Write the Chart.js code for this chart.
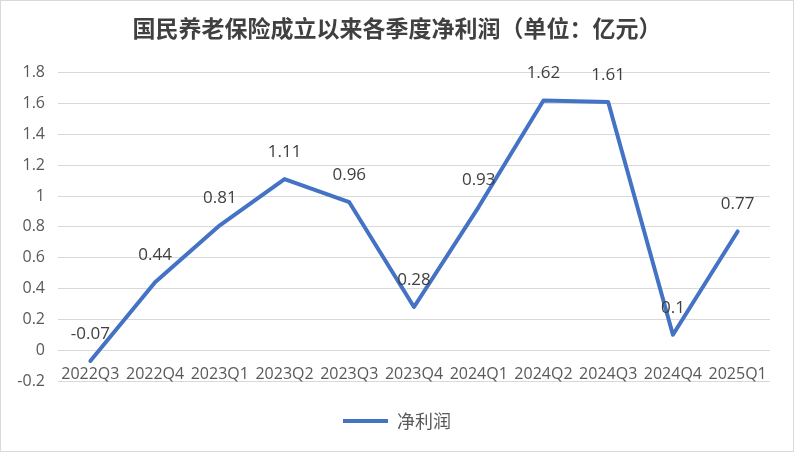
<!DOCTYPE html>
<html>
<head>
<meta charset="utf-8">
<script src="https://cdn.jsdelivr.net/npm/chart.js@4.4.0/dist/chart.umd.min.js"></script>
<style>
  html, body { margin: 0; padding: 0; background: #fff; }
  #wrap { position: relative; width: 794px; height: 452px; }
  #frame { position: absolute; left: 0; top: 0; width: 794px; height: 452px; box-sizing: border-box; border: 1px solid #d9d9d9; pointer-events: none; }
</style>
</head>
<body>
<div id="wrap">
  <canvas id="c" width="794" height="452"></canvas>
  <div id="frame"></div>
</div>
<script>
const titleText = '国民养老保险成立以来各季度净利润（单位：亿元）';
const seriesName = '净利润';
const categories = ['2022Q3','2022Q4','2023Q1','2023Q2','2023Q3','2023Q4','2024Q1','2024Q2','2024Q3','2024Q4','2025Q1'];
const netProfit = [-0.07, 0.44, 0.81, 1.11, 0.96, 0.28, 0.93, 1.62, 1.61, 0.1, 0.77];
const yMin = -0.2, yMax = 1.8, yStep = 0.2;

const BLUE = '#4472C4';
const LATIN = '"Open Sans", "Noto Sans CJK SC", sans-serif';
const CJK = '"Noto Sans CJK SC", sans-serif';

const valueLabels = {
  id: 'valueLabels',
  afterDatasetsDraw(chart) {
    const ctx = chart.ctx;
    const meta = chart.getDatasetMeta(0);
    const data = chart.data.datasets[0].data;
    ctx.save();
    ctx.font = '17px ' + LATIN;
    ctx.fillStyle = '#404040';
    ctx.textAlign = 'center';
    ctx.textBaseline = 'middle';
    meta.data.forEach((pt, i) => {
      ctx.fillText(String(data[i]), pt.x, pt.y - 27);
    });
    ctx.restore();
  }
};

new Chart(document.getElementById('c'), {
  type: 'line',
  data: {
    labels: categories,
    datasets: [{
      label: seriesName,
      data: netProfit,
      borderColor: BLUE,
      backgroundColor: BLUE,
      borderWidth: 4,
      borderJoinStyle: 'round',
      borderCapStyle: 'round',
      pointRadius: 0,
      pointHoverRadius: 0,
      tension: 0,
      fill: false,
      yAxisID: 'y'
    }]
  },
  options: {
    responsive: false,
    animation: false,
    devicePixelRatio: 1,
    layout: { padding: { top: 14.5, left: 0, right: 0, bottom: 12 } },
    plugins: {
      title: {
        display: true,
        text: titleText,
        color: '#404040',
        font: { family: CJK, size: 23, weight: 'bold', lineHeight: 1.2 },
        padding: { top: 0, bottom: 30.6 }
      },
      legend: {
        display: true,
        position: 'bottom',
        labels: {
          color: '#595959',
          font: { family: CJK, size: 18 },
          boxWidth: 45,
          boxHeight: 4,
          padding: 31,
          generateLabels(chart) {
            const items = Chart.defaults.plugins.legend.labels.generateLabels(chart);
            items.forEach(it => { it.lineWidth = 0; it.fillStyle = BLUE; it.strokeStyle = BLUE; });
            return items;
          }
        }
      },
      tooltip: { enabled: false }
    },
    scales: {
      x: {
        type: 'category',
        position: { y: 0 },
        offset: true,
        grid: { display: false, drawTicks: false },
        border: { display: false },
        ticks: {
          color: '#595959',
          font: { family: LATIN, size: 16 },
          padding: 15,
          maxRotation: 0,
          autoSkip: false
        }
      },
      y: {
        min: yMin,
        max: yMax,
        grid: { color: '#d9d9d9', lineWidth: 1, drawTicks: false },
        border: { display: false },
        ticks: {
          stepSize: yStep,
          color: '#595959',
          font: { family: LATIN, size: 16 },
          padding: 13,
          callback: (v) => String(Number(Number(v).toFixed(1)))
        },
        afterFit(scale) { scale.width = 58; }
      },
      yRight: {
        type: 'linear',
        position: 'right',
        min: yMin,
        max: yMax,
        grid: { display: false, drawTicks: false },
        border: { display: false },
        ticks: { display: false },
        afterFit(scale) { scale.width = 24; }
      }
    }
  },
  plugins: [valueLabels]
});
</script>
</body>
</html>
